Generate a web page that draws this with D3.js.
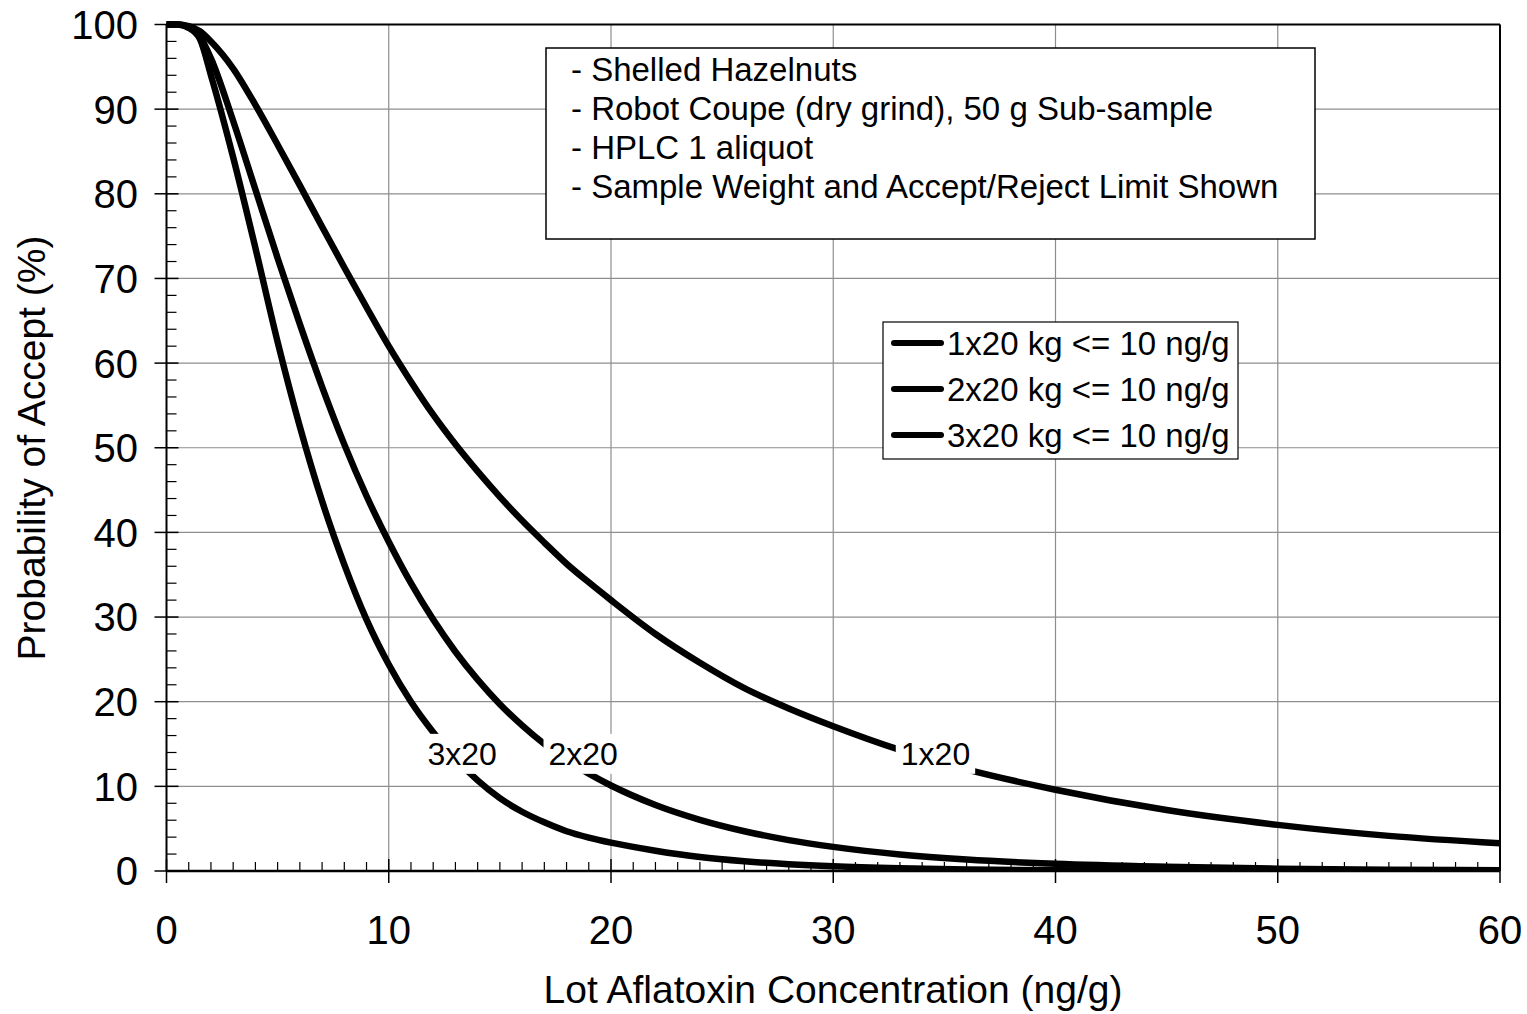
<!DOCTYPE html>
<html>
<head>
<meta charset="utf-8">
<script src="https://cdn.jsdelivr.net/npm/d3@7"></script>
<style>
  body { margin: 0; background: #fff; }
  svg { display: block; }
  text { font-family: "Liberation Sans", Arial, Helvetica, sans-serif; fill: #000; }
</style>
</head>
<body>
<svg id="chart" width="1527" height="1014"></svg>
<script>
// Lot aflatoxin concentration (ng/g) at which acceptance probability is given
const concentration = [0, 0.5, 1, 1.5, 2, 3, 4, 5, 6, 7, 8, 9, 10, 11, 12, 13, 14, 15, 16, 17, 18, 19, 20,
                       22, 24, 26, 28, 30, 33, 36, 40, 45, 50, 55, 60];
// Probability of acceptance (%) for each sampling plan
const accept1x20 = [100, 100, 99.8, 99.2, 98.0, 94.8, 90.5, 85.8, 81.0, 76.1, 71.3, 66.6, 62.0, 57.8, 53.9, 50.4, 47.2, 44.2, 41.4, 38.8, 36.3, 34.1, 32.0,
                    28.0, 24.6, 21.6, 19.2, 17.1, 14.3, 12.0, 9.6, 7.2, 5.45, 4.15, 3.27];
const accept2x20 = [100, 100, 99.7, 98.6, 96.0, 88.6, 80.5, 72.4, 64.6, 57.2, 50.4, 44.3, 38.9, 34.0, 29.7, 25.9, 22.6, 19.7, 17.2, 15.0, 13.1, 11.5, 10.1,
                    7.8, 6.05, 4.7, 3.65, 2.85, 1.95, 1.35, 0.85, 0.5, 0.28, 0.16, 0.09];
const accept3x20 = [100, 100, 99.6, 98.3, 94.0, 84.3, 73.6, 62.5, 52.5, 43.7, 36.2, 29.7, 24.4, 20.0, 16.4, 13.3, 10.7, 8.6, 7.0, 5.75, 4.7, 3.95, 3.35,
                    2.4, 1.65, 1.15, 0.8, 0.55, 0.32, 0.18, 0.09, 0.04, 0.02, 0.01, 0.0];

const seriesNames = ["1x20 kg <= 10 ng/g", "2x20 kg <= 10 ng/g", "3x20 kg <= 10 ng/g"];
const seriesValues = [accept1x20, accept2x20, accept3x20];

// In-plot curve labels, placed at data coordinates
const curveLabelText = ["3x20", "2x20", "1x20"];
const curveLabelConc = [13.3, 18.75, 34.6];
const curveLabelAccept = [13.9, 13.9, 13.9];

const xTicks = [0, 10, 20, 30, 40, 50, 60];
const yTicks = [0, 10, 20, 30, 40, 50, 60, 70, 80, 90, 100];

const notes = [
  "- Shelled Hazelnuts",
  "- Robot Coupe (dry grind), 50 g Sub-sample",
  "- HPLC 1 aliquot",
  "- Sample Weight and Accept/Reject Limit Shown"
];

const xTitle = "Lot Aflatoxin Concentration (ng/g)";
const yTitle = "Probability of Accept (%)";

// ---- layout ----
const plot = { left: 166.5, right: 1500, top: 24.5, bottom: 871 };
const svg = d3.select("#chart");
svg.append("rect").attr("width", 1527).attr("height", 1014).attr("fill", "#fff");

const x = d3.scaleLinear().domain([0, 60]).range([plot.left, plot.right]);
const y = d3.scaleLinear().domain([0, 100]).range([plot.bottom, plot.top]);

// gridlines
const grid = svg.append("g").attr("stroke", "#8e8e8e").attr("stroke-width", 1.2);
grid.selectAll("line.gx").data(xTicks.filter(t => t > 0 && t < 60)).join("line")
  .attr("x1", d => x(d)).attr("x2", d => x(d)).attr("y1", plot.top).attr("y2", plot.bottom);
grid.selectAll("line.gy").data(yTicks.filter(t => t > 0 && t < 100)).join("line")
  .attr("x1", plot.left).attr("x2", plot.right).attr("y1", d => y(d)).attr("y2", d => y(d));

// plot frame (top and right)
svg.append("line").attr("x1", plot.left).attr("x2", plot.right).attr("y1", plot.top).attr("y2", plot.top)
  .attr("stroke", "#000").attr("stroke-width", 2);
svg.append("line").attr("x1", plot.right).attr("x2", plot.right).attr("y1", plot.top).attr("y2", plot.bottom)
  .attr("stroke", "#000").attr("stroke-width", 2);

// axes with crossing major ticks and inside minor ticks
const axG = svg.append("g").attr("stroke", "#000");
const minorX = d3.range(1, 60).filter(v => v % 10 !== 0);
axG.selectAll("line.mx").data(minorX).join("line")
  .attr("x1", d => x(d)).attr("x2", d => x(d)).attr("y1", plot.bottom).attr("y2", plot.bottom - 9)
  .attr("stroke-width", 1.2);
axG.selectAll("line.Mx").data(xTicks).join("line")
  .attr("x1", d => x(d)).attr("x2", d => x(d)).attr("y1", plot.bottom - 12).attr("y2", plot.bottom + 12)
  .attr("stroke-width", 1.5);
const minorY = d3.range(2, 100, 2).filter(v => v % 10 !== 0);
axG.selectAll("line.my").data(minorY).join("line")
  .attr("x1", plot.left).attr("x2", plot.left + 10).attr("y1", d => y(d)).attr("y2", d => y(d))
  .attr("stroke-width", 1.2);
axG.selectAll("line.My").data(yTicks).join("line")
  .attr("x1", plot.left - 12).attr("x2", plot.left + 12).attr("y1", d => y(d)).attr("y2", d => y(d))
  .attr("stroke-width", 1.5);
svg.append("line").attr("x1", plot.left).attr("x2", plot.right).attr("y1", plot.bottom).attr("y2", plot.bottom)
  .attr("stroke", "#000").attr("stroke-width", 2.5);
svg.append("line").attr("x1", plot.left).attr("x2", plot.left).attr("y1", plot.top).attr("y2", plot.bottom)
  .attr("stroke", "#000").attr("stroke-width", 2);

// tick labels
svg.append("g").selectAll("text").data(xTicks).join("text")
  .attr("x", d => x(d)).attr("y", 944).attr("text-anchor", "middle")
  .attr("font-size", 40).text(d => d);
svg.append("g").selectAll("text").data(yTicks).join("text")
  .attr("x", 138).attr("y", d => y(d)).attr("dy", "0.36em").attr("text-anchor", "end")
  .attr("font-size", 40).text(d => d);

// axis titles
svg.append("text").attr("x", 833).attr("y", 1003).attr("text-anchor", "middle")
  .attr("font-size", 39).text(xTitle);
svg.append("text").attr("transform", "translate(45,448) rotate(-90)").attr("text-anchor", "middle")
  .attr("font-size", 39).text(yTitle);

// curves
svg.append("clipPath").attr("id", "plotClip").append("rect")
  .attr("x", plot.left).attr("y", plot.top - 4).attr("width", plot.right - plot.left).attr("height", plot.bottom - plot.top + 4);
const line = d3.line().x(d => x(d[0])).y(d => y(d[1])).curve(d3.curveMonotoneX);
svg.append("g").attr("clip-path", "url(#plotClip)")
  .selectAll("path").data(seriesValues).join("path")
  .attr("d", vals => line(concentration.map((c, i) => [c, vals[i]])))
  .attr("fill", "none").attr("stroke", "#000").attr("stroke-width", 6.5)
  .attr("stroke-linejoin", "round").attr("stroke-linecap", "round");

// curve labels with white backing
const lab = svg.append("g");
curveLabelText.forEach((t, i) => {
  const g = lab.append("g");
  const txt = g.append("text").attr("x", x(curveLabelConc[i])).attr("y", y(curveLabelAccept[i]))
    .attr("dy", "0.36em").attr("text-anchor", "middle").attr("font-size", 32).text(t);
  const bb = txt.node().getBBox();
  g.insert("rect", "text").attr("x", bb.x - 5).attr("y", bb.y - 2).attr("width", bb.width + 10).attr("height", bb.height + 4)
    .attr("fill", "#fff");
});

// notes box
const notesBox = { x: 546, y: 48, w: 769, h: 191 };
svg.append("rect").attr("x", notesBox.x).attr("y", notesBox.y).attr("width", notesBox.w).attr("height", notesBox.h)
  .attr("fill", "#fff").attr("stroke", "#000").attr("stroke-width", 1.5);
svg.append("g").selectAll("text").data(notes).join("text")
  .attr("x", 571).attr("y", (d, i) => 81 + i * 39).attr("font-size", 33).text(d => d);

// legend
const legBox = { x: 883, y: 322, w: 355, h: 137 };
svg.append("rect").attr("x", legBox.x).attr("y", legBox.y).attr("width", legBox.w).attr("height", legBox.h)
  .attr("fill", "#fff").attr("stroke", "#000").attr("stroke-width", 1.2);
const legRows = svg.append("g").selectAll("g").data(seriesNames).join("g")
  .attr("transform", (d, i) => `translate(0,${343 + i * 46})`);
legRows.append("line").attr("x1", 894).attr("x2", 941).attr("y1", 0).attr("y2", 0)
  .attr("stroke", "#000").attr("stroke-width", 6).attr("stroke-linecap", "round");
legRows.append("text").attr("x", 947).attr("y", 0).attr("dy", "0.36em").attr("font-size", 33).text(d => d);
</script>
</body>
</html>
